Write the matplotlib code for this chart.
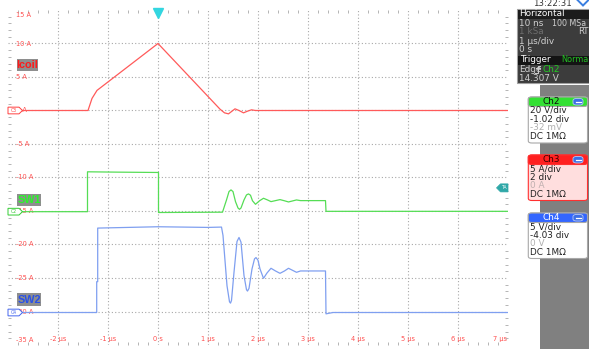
import matplotlib
matplotlib.use('Agg')
import matplotlib.pyplot as plt
from matplotlib.patches import Rectangle, FancyBboxPatch, Polygon
from matplotlib.transforms import blended_transform_factory
import numpy as np

# ---------------- data ----------------
x_ticks = [-3, -2, -1, 0, 1, 2, 3, 4, 5, 6, 7]
x_tick_labels = ['', '-2 µs', '-1 µs', '0 s', '1 µs', '2 µs', '3 µs', '4 µs', '5 µs', '6 µs', '7 µs']
y_ticks = [15, 10, 5, 0, -5, -10, -15, -20, -25, -30, -35]
y_tick_labels = ['15 A', '10 A', '5 A', '0 A', '-5 A', '-10 A', '-15 A', '-20 A', '-25 A', '-30 A', '-35 A']

# Icoil (Ch3, A)
t_icoil = [-3.0, -1.40, -1.32, -1.22, 0.0, 1.24, 1.33, 1.41, 1.48, 1.54, 1.62, 1.71, 1.79, 1.87, 1.95, 2.05, 7.0]
icoil   = [0.0, 0.0, 1.8, 3.0, 10.0, 0.2, -0.35, -0.5, -0.1, 0.25, 0.0, -0.35, -0.1, 0.1, 0.0, 0.0, 0.0]

# SW1 (Ch2, V)
t_sw1 = [-3.0, -1.41, -1.41, -0.8, 0.0, 0.01, 0.01, 1.29, 1.37, 1.42, 1.46, 1.50, 1.55, 1.60, 1.63, 1.66,
         1.72, 1.77, 1.81, 1.85, 1.89, 1.95, 2.03, 2.11, 2.19, 2.26, 2.35, 2.44, 2.53, 2.61, 2.69, 2.77, 2.85,
         3.35, 3.36, 7.0]
sw1   = [0.0, 0.0, 23.8, 23.6, 23.4, 23.4, -0.5, -0.3, 7.0, 12.0, 13.0, 12.0, 6.0, 2.2, 1.4, 2.2,
         7.0, 10.0, 10.6, 9.8, 6.5, 4.4, 6.5, 8.0, 7.0, 6.0, 6.6, 7.2, 6.5, 5.8, 6.4, 7.0, 6.6,
         6.6, 0.2, 0.2]

# SW2 (Ch4, V)
t_sw2 = [-3.0, -1.226, -1.226, -1.206, -1.206, 0.0, 1.0, 1.27, 1.30, 1.38, 1.43, 1.45, 1.47, 1.52, 1.58,
         1.62, 1.66, 1.72, 1.77, 1.79, 1.82, 1.88, 1.93, 1.96, 2.00, 2.04, 2.11, 2.18, 2.26, 2.35, 2.44,
         2.53, 2.61, 2.69, 2.77, 2.85, 3.35, 3.36, 3.5, 7.0]
sw2   = [0.0, 0.0, 4.6, 4.6, 12.6, 12.8, 12.7, 12.75, 11.5, 4.0, 1.6, 1.4, 1.8, 6.0, 10.6,
         11.2, 10.5, 5.5, 3.4, 3.2, 3.6, 6.5, 8.0, 8.2, 7.8, 6.5, 5.1, 5.9, 6.6, 6.2, 5.85,
         6.2, 6.6, 6.3, 6.0, 6.2, 6.2, -0.2, 0.0, 0.0]

# channel settings (scale per div, position in div)
CENTER, DIV = -10.0, 5.0
ch2_scale, ch2_pos = 20.0, -1.02
ch3_scale, ch3_pos = 5.0, 2.0
ch4_scale, ch4_pos = 5.0, -4.03

def to_axis(vals, scale, pos):
    return CENTER + (pos + np.asarray(vals, dtype=float) / scale) * DIV

# ---------------- figure ----------------
W, H = 589, 349
fig = plt.figure(figsize=(W / 100, H / 100), dpi=100)
fig.patch.set_facecolor('white')

def P(x, y):
    return (x / W, 1 - y / H)

ax = fig.add_axes([8 / W, 1 - 345 / H, 500 / W, 335 / H])
ax.set_xlim(-3, 7)
ax.set_ylim(-35, 15)
ax.set_facecolor('white')
for s in ax.spines.values():
    s.set_visible(False)
ax.set_xticks(x_ticks)
ax.set_yticks(y_ticks)
ax.set_xticks(np.arange(-3, 7.001, 0.2), minor=True)
ax.set_yticks(np.arange(-35, 15.001, 1.0), minor=True)
ax.tick_params(which='major', length=0, labelleft=False, labelbottom=False)
ax.tick_params(which='minor', direction='in', length=2, width=0.6, color='#a8a8a8',
               top=True, right=True, bottom=True, left=True)

grid_kw = dict(color='#a8a8a8', lw=0.8, ls=(0, (1, 2)), zorder=1)
for x in x_ticks[1:-1]:
    ax.axvline(x, **grid_kw)
for y in y_ticks[1:-1]:
    ax.axhline(y, **grid_kw)

red = '#ff5050'
# y labels
for v, lab in zip(y_ticks, y_tick_labels):
    yy = v
    if v == 15:
        yy = v - 0.75
    if v == -35:
        yy = v + 0.7
    ax.text(-2.84, yy, lab, color=red, fontsize=4.8, ha='left', va='center', zorder=2)
# x labels
for v, lab in zip(x_ticks, x_tick_labels):
    if not lab:
        continue
    ha = 'center'
    xx = v
    if v == 7:
        ha = 'right'
        xx = 6.99
    ax.text(xx, -34.1, lab, color=red, fontsize=4.8, ha=ha, va='center', zorder=2)

# traces
ax.plot(t_icoil, to_axis(icoil, ch3_scale, ch3_pos), color='#ff5a5a', lw=0.9, zorder=4)
ax.plot(t_sw1, to_axis(sw1, ch2_scale, ch2_pos), color='#55dd55', lw=0.9, zorder=4)
ax.plot(t_sw2, to_axis(sw2, ch4_scale, ch4_pos), color='#7f9ff0', lw=0.9, zorder=4)

# ground markers on the left
bt = blended_transform_factory(ax.transAxes, ax.transData)
def gnd_tag(y, col, name):
    pts = [(0.0, y - 0.5), (0.022, y - 0.5), (0.029, y), (0.022, y + 0.5), (0.0, y + 0.5)]
    ax.add_patch(Polygon(pts, closed=True, transform=bt, facecolor='white', edgecolor=col,
                         lw=0.7, zorder=5, clip_on=False))
    ax.text(0.012, y, name, transform=bt, fontsize=3.3, color=col, ha='center', va='center', zorder=6)

gnd_tag(to_axis([0], ch3_scale, ch3_pos)[0], '#ff4040', 'C3')
gnd_tag(to_axis([0], ch2_scale, ch2_pos)[0], '#33cc33', 'C2')
gnd_tag(to_axis([0], ch4_scale, ch4_pos)[0], '#4466ee', 'C4')

# trigger level marker (right)
ty = -11.55
pts = [(0.977, ty), (0.985, ty + 0.6), (1.0, ty + 0.6), (1.0, ty - 0.6), (0.985, ty - 0.6)]
ax.add_patch(Polygon(pts, closed=True, transform=bt, facecolor='#2fa8a8', edgecolor='#2fa8a8',
                     lw=0.5, zorder=5, clip_on=False))
ax.text(0.991, ty, 'TA', transform=bt, fontsize=3.3, color='white', ha='center', va='center', zorder=6)

# trigger position marker (top)
ax.plot([0], [14.5], marker='v', ms=7, color='#33d6e0', mec='#33d6e0', clip_on=False, zorder=6)

# channel name labels
def name_label(x0, y0, x1, y1, text, col):
    fig.patches.append(Rectangle(P(x0, y1), (x1 - x0) / W, (y1 - y0) / H, transform=fig.transFigure,
                                 facecolor='#8e8e8e', edgecolor='none', zorder=5))
    fig.text(*P((x0 + x1) / 2, (y0 + y1) / 2 + 0.4), text, color=col, fontsize=7.8,
             family='Liberation Sans', fontweight='bold', ha='center', va='center', zorder=6)

name_label(16.7, 58.7, 37.7, 70.7, 'Icoil', '#ff1a1a')
name_label(17.3, 194, 40.7, 206, 'SW1', '#2af52a')
name_label(17.3, 293.3, 40.7, 305.8, 'SW2', '#2850e8')

# ---------------- right panel ----------------
def rect(x0, y0, x1, y1, fc, ec='none', lw=0.0, rounded=False, z=2):
    if rounded:
        p = FancyBboxPatch(P(x0, y1), (x1 - x0) / W, (y1 - y0) / H,
                           boxstyle='round,pad=0,rounding_size=0.006', transform=fig.transFigure,
                           facecolor=fc, edgecolor=ec, lw=lw, zorder=z)
    else:
        p = Rectangle(P(x0, y1), (x1 - x0) / W, (y1 - y0) / H, transform=fig.transFigure,
                      facecolor=fc, edgecolor=ec, lw=lw, zorder=z)
    fig.patches.append(p)

def txt(x, y, s, col, ha='left', fs=6.4, z=7, **kw):
    fig.text(*P(x, y), s, color=col, fontsize=fs, ha=ha, va='center', zorder=z, **kw)

# time and icon at top
txt(533, 3.6, '13:22:31', '#333333', fs=6.2)
fig.patches.append(Polygon([P(583, -7.5), P(589.5, -1), P(583, 5.5), P(576.5, -1)], closed=True,
                           transform=fig.transFigure, facecolor='white', edgecolor='#3a7ee0',
                           lw=1.4, zorder=6))

# horizontal / trigger box
rect(517, 9, 595, 83, '#3c3c3c', ec='#a0a0a0', lw=0.8, z=2)
rect(517.5, 9.5, 595, 18.5, '#1c1c1c', z=3)
txt(519, 13.8, 'Horizontal', 'white')
txt(519, 23, '10 ns', '#cfcfcf')
txt(552.5, 23, '100 MSa', '#cfcfcf', fs=5.7)
txt(519, 31.7, '1 kSa', '#6e6e6e')
txt(578.5, 31.7, 'RT', '#cfcfcf', fs=6.1)
txt(519, 41, '1 µs/div', '#cfcfcf')
txt(519, 50, '0 s', '#cfcfcf')
rect(517.5, 55.5, 595, 64.5, '#141414', z=3)
txt(520, 60, 'Trigger', 'white')
txt(561, 60, 'Normal', '#22c022', fs=5.9)
txt(519, 69.3, 'Edge', '#cfcfcf')
# trigger edge icon
fig.lines.append(plt.Line2D([535.3 / W, 537.5 / W, 537.5 / W, 539.5 / W],
                            [1 - 72.5 / H, 1 - 72.5 / H, 1 - 65.5 / H, 1 - 65.5 / H],
                            transform=fig.transFigure, color='#cfcfcf', lw=0.7, zorder=7))
fig.lines.append(plt.Line2D([535.5 / W, 539.5 / W], [1 - 68 / H, 1 - 68 / H],
                            transform=fig.transFigure, color='#cfcfcf', lw=0.7, zorder=7))
txt(542.5, 69.3, 'Ch2', '#22cc22')
txt(519, 78.3, '14.307 V', '#cfcfcf')

# grey panel
rect(539.5, 85, 595, 352, '#808080', z=1)

def ch_box(y0, y1, hdr_col, name, name_col, body_col, border_col, lines):
    rect(528.3, y0, 587.5, y1, body_col, ec=border_col, lw=0.8, rounded=True, z=3)
    rect(528.3, y0, 587.5, y0 + 9.5, hdr_col, ec=border_col, lw=0.8, rounded=True, z=4)
    txt(551, y0 + 4.9, name, name_col, ha='center')
    rect(573, y0 + 1.5, 583, y0 + 8, '#3c6ee6', ec='#b8c8f0', lw=0.6, rounded=True, z=5)
    fig.lines.append(plt.Line2D([575.5 / W, 580.5 / W], [1 - (y0 + 4.8) / H] * 2,
                                transform=fig.transFigure, color='white', lw=0.9, zorder=6))
    for i, (s, c) in enumerate(lines):
        txt(530.5, y0 + 13.5 + i * 8.7, s, c)

ch_box(97, 143, '#33e033', 'Ch2', '#101010', 'white', '#a8a8a8',
       [('20 V/div', '#222222'), ('-1.02 div', '#222222'), ('-32 mV', '#b0b0b0'), ('DC 1MΩ', '#222222')])
ch_box(155, 200.5, '#ff2020', 'Ch3', '#3a0000', '#ffdede', '#ff3030',
       [('5 A/div', '#222222'), ('2 div', '#222222'), ('0 A', '#c0b0b0'), ('DC 1MΩ', '#222222')])
ch_box(213, 258.5, '#3366ff', 'Ch4', 'white', 'white', '#a8a8a8',
       [('5 V/div', '#222222'), ('-4.03 div', '#222222'), ('0 V', '#b0b0b0'), ('DC 1MΩ', '#222222')])

fig.savefig('out.png', dpi=100, facecolor='white')
